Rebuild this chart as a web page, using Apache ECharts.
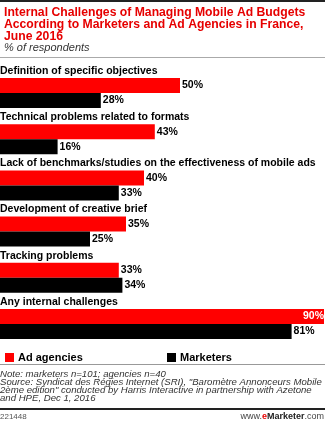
<!DOCTYPE html>
<html>
<head>
<meta charset="utf-8">
<script src="https://cdn.jsdelivr.net/npm/echarts@6/dist/echarts.min.js"></script>
<style>
  html, body { margin: 0; padding: 0; background: #fff; }
  #chart { width: 325px; height: 423px; }
</style>
</head>
<body>
<div id="chart"></div>
<script>
const categories = [
  "Definition of specific objectives",
  "Technical problems related to formats",
  "Lack of benchmarks/studies on the effectiveness of mobile ads",
  "Development of creative brief",
  "Tracking problems",
  "Any internal challenges"
];
const adAgencies = [50, 43, 40, 35, 33, 90];
const marketers = [28, 16, 33, 25, 34, 81];

const titleText = "Internal Challenges of Managing Mobile Ad Budgets\nAccording to Marketers and Ad Agencies in France,\nJune 2016";
const subtitleText = "% of respondents";
const noteLines = [
  "Note: marketers n=101; agencies n=40",
  "Source: Syndicat des Régies Internet (SRI), \"Baromètre Annonceurs Mobile",
  "2ème edition\" conducted by Harris Interactive in partnership with Azetone",
  "and HPE, Dec 1, 2016"
];

const FONT = "Liberation Sans, Arial, sans-serif";
const RED = "#ff0000";
const BLACK = "#000000";

const chart = echarts.init(document.getElementById("chart"));

// the widest bar gets its label inside, in white
const redData = adAgencies.map((v) =>
  v >= 85
    ? { value: v, label: { position: "insideRight", color: "#fff", offset: [2, 0] } }
    : v
);

const valueLabel = {
  show: true,
  position: "right",
  distance: 2,
  formatter: "{c}%",
  color: "#000",
  fontSize: 10.5,
  fontWeight: "bold",
  fontFamily: FONT
};

const option = {
  backgroundColor: "#fff",
  animation: false,
  title: [
    {
      text: titleText,
      left: -1,
      top: 2,
      textStyle: { color: "#e60000", fontSize: 12.2, fontWeight: "bold", fontFamily: FONT, lineHeight: 11.7 }
    },
    {
      text: subtitleText,
      left: -1,
      top: 37,
      textStyle: { color: "#333", fontSize: 11, fontStyle: "italic", fontWeight: "normal", fontFamily: FONT }
    }
  ],
  legend: [
    {
      data: ["Ad agencies"],
      left: 0,
      top: 347,
      icon: "rect",
      itemWidth: 9,
      itemHeight: 9,
      itemGap: 4,
      textStyle: { color: "#000", fontSize: 11, fontWeight: "bold", fontFamily: FONT, padding: [0, 0, 0, -1] }
    },
    {
      data: ["Marketers"],
      left: 162,
      top: 347,
      icon: "rect",
      itemWidth: 9,
      itemHeight: 9,
      textStyle: { color: "#000", fontSize: 11, fontWeight: "bold", fontFamily: FONT, padding: [0, 0, 0, -1] }
    }
  ],
  grid: { left: 0, right: 1, top: 70, bottom: 76, containLabel: false, outerBoundsMode: "none" },
  xAxis: {
    type: "value",
    min: 0,
    max: 90,
    show: false
  },
  yAxis: {
    type: "category",
    data: categories,
    inverse: true,
    axisLine: { show: false },
    axisTick: { show: false },
    splitLine: { show: false },
    axisLabel: {
      inside: true,
      margin: 0,
      interval: 0,
      showMinLabel: true,
      showMaxLabel: true,
      hideOverlap: false,
      align: "left",
      verticalAlign: "middle",
      // empty second line pushes the name above the pair of bars
      formatter: (name) => "{a|" + name + "}\n{b|}",
      rich: {
        a: { color: "#000", fontSize: 10.5, fontWeight: "bold", fontFamily: FONT, lineHeight: 14 },
        b: { lineHeight: 44, height: 44 }
      }
    }
  },
  series: [
    {
      name: "Ad agencies",
      type: "bar",
      data: redData,
      barWidth: 15,
      barGap: "0%",
      itemStyle: { color: RED },
      label: valueLabel
    },
    {
      name: "Marketers",
      type: "bar",
      data: marketers,
      barWidth: 15,
      itemStyle: { color: BLACK },
      label: valueLabel
    }
  ],
  graphic: [
    { type: "rect", left: 0, top: 0, shape: { width: 325, height: 2 }, style: { fill: "#222" } },
    { type: "rect", left: 0, top: 57, shape: { width: 325, height: 1 }, style: { fill: "#aaa" } },
    { type: "rect", left: 0, top: 364, shape: { width: 325, height: 1 }, style: { fill: "#999" } },
    {
      type: "text",
      left: 0,
      top: 369,
      style: {
        text: noteLines.join("\n"),
        fill: "#333",
        font: "italic 9.6px " + FONT,
        lineHeight: 8.2
      }
    },
    { type: "rect", left: 0, top: 408, shape: { width: 325, height: 2 }, style: { fill: "#222" } },
    {
      type: "text",
      left: 0,
      top: 413,
      style: { text: "221448", fill: "#555", font: "8px " + FONT }
    },
    {
      type: "text",
      right: 1,
      top: 412,
      style: {
        text: "{a|www.}{b|e}{c|Marketer}{a|.com}",
        rich: {
          a: { fill: "#444", font: "9px " + FONT },
          b: { fill: "#e60000", font: "bold 9px " + FONT },
          c: { fill: "#222", font: "bold 9px " + FONT }
        }
      }
    }
  ]
};

chart.setOption(option);
</script>
</body>
</html>
